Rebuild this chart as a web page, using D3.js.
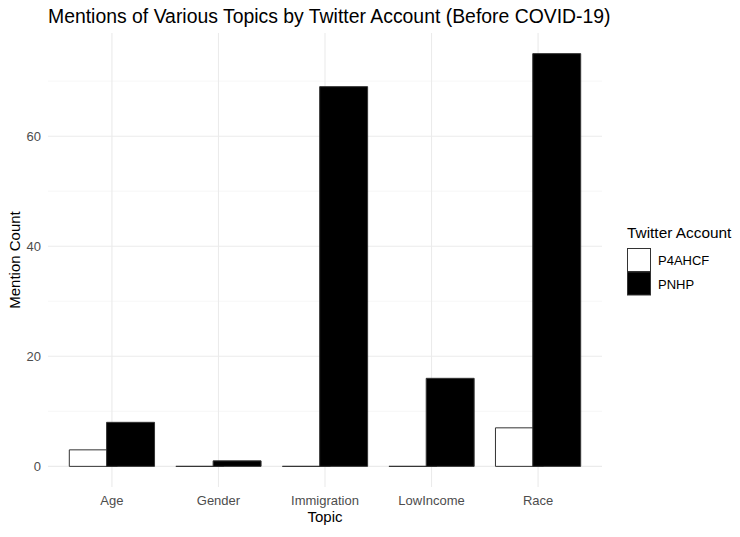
<!DOCTYPE html>
<html>
<head>
<meta charset="utf-8">
<script src="https://cdn.jsdelivr.net/npm/d3@7"></script>
<style>
  body { margin: 0; background: #fff; }
  svg { font-family: "Liberation Sans", Arial, sans-serif; }
</style>
</head>
<body>
<div id="chart"></div>
<script>
// data
const topics = ["Age", "Gender", "Immigration", "LowIncome", "Race"];
const accounts = ["P4AHCF", "PNHP"];
const p4ahcfCounts = [3, 0, 0, 0, 7];
const pnhpCounts = [8, 1, 69, 16, 75];
const yTicks = [0, 20, 40, 60];
const yMinorTicks = [10, 30, 50, 70];

const width = 740, height = 537;
const panel = { left: 48, right: 602, top: 33, bottom: 487 };

const svg = d3.select("#chart").append("svg")
    .attr("width", width)
    .attr("height", height);

// continuous x so the dodge (width 0.7) and bar width (0.9) match ggplot
const x = d3.scaleLinear().domain([0.4, topics.length + 0.6]).range([panel.left, panel.right]);
const y = d3.scaleLinear().domain([-3.75, 78.75]).range([panel.bottom, panel.top]);

const dodge = 0.7, barW = 0.9 / 2;

// grid
const grid = svg.append("g");
grid.selectAll(".minor").data(yMinorTicks).join("line")
    .attr("x1", panel.left).attr("x2", panel.right)
    .attr("y1", d => y(d)).attr("y2", d => y(d))
    .attr("stroke", "#f2f2f2").attr("stroke-width", 0.6);
grid.selectAll(".major").data(yTicks).join("line")
    .attr("x1", panel.left).attr("x2", panel.right)
    .attr("y1", d => y(d)).attr("y2", d => y(d))
    .attr("stroke", "#ebebeb").attr("stroke-width", 1.1);
grid.selectAll(".vmajor").data(topics).join("line")
    .attr("x1", (d, i) => x(i + 1)).attr("x2", (d, i) => x(i + 1))
    .attr("y1", panel.top).attr("y2", panel.bottom)
    .attr("stroke", "#ebebeb").attr("stroke-width", 1.1);

// bars as paths so zero counts still show their outline, P4AHCF under PNHP
const series = [
    { name: accounts[0], values: p4ahcfCounts, fill: "#ffffff", off: -dodge / 4 },
    { name: accounts[1], values: pnhpCounts, fill: "#000000", off: dodge / 4 }
];
function barPath(d, i, off) {
    const x0 = x(i + 1 + off - barW / 2), x1 = x(i + 1 + off + barW / 2);
    return `M${x0},${y(0)}H${x1}V${y(d)}H${x0}Z`;
}
series.forEach(s => {
    svg.append("g").selectAll("path").data(s.values).join("path")
        .attr("d", (d, i) => barPath(d, i, s.off))
        .attr("fill", s.fill)
        .attr("stroke", "#333333")
        .attr("stroke-width", 1);
});

// axes text
const tickColor = "#4d4d4d";
svg.append("g").selectAll("text").data(yTicks).join("text")
    .attr("x", 41).attr("y", d => y(d) + 4.5)
    .attr("text-anchor", "end")
    .attr("font-size", 13).attr("fill", tickColor)
    .text(d => d);
svg.append("g").selectAll("text").data(topics).join("text")
    .attr("x", (d, i) => x(i + 1)).attr("y", 505)
    .attr("text-anchor", "middle")
    .attr("font-size", 13).attr("fill", tickColor)
    .text(d => d);

svg.append("text")
    .attr("x", (panel.left + panel.right) / 2).attr("y", 522)
    .attr("text-anchor", "middle")
    .attr("font-size", 15).attr("fill", "#000")
    .text("Topic");
svg.append("text")
    .attr("transform", `translate(20,${(panel.top + panel.bottom) / 2}) rotate(-90)`)
    .attr("text-anchor", "middle")
    .attr("font-size", 15).attr("fill", "#000")
    .text("Mention Count");

svg.append("text")
    .attr("x", 48).attr("y", 23)
    .attr("font-size", 19.4).attr("fill", "#000")
    .text("Mentions of Various Topics by Twitter Account (Before COVID-19)");

// legend
const legend = svg.append("g").attr("transform", "translate(627,0)");
legend.append("text")
    .attr("x", 0).attr("y", 238)
    .attr("font-size", 15.4).attr("fill", "#000")
    .text("Twitter Account");
legend.selectAll("rect").data(series).join("rect")
    .attr("x", 0.5).attr("y", (d, i) => 248.5 + i * 23.5)
    .attr("width", 23).attr("height", 23)
    .attr("fill", d => d.fill)
    .attr("stroke", "#333333").attr("stroke-width", 1);
legend.selectAll(".lab").data(series).join("text")
    .attr("x", 31).attr("y", (d, i) => 265 + i * 23.5)
    .attr("font-size", 13).attr("fill", "#000")
    .text(d => d.name);
</script>
</body>
</html>
